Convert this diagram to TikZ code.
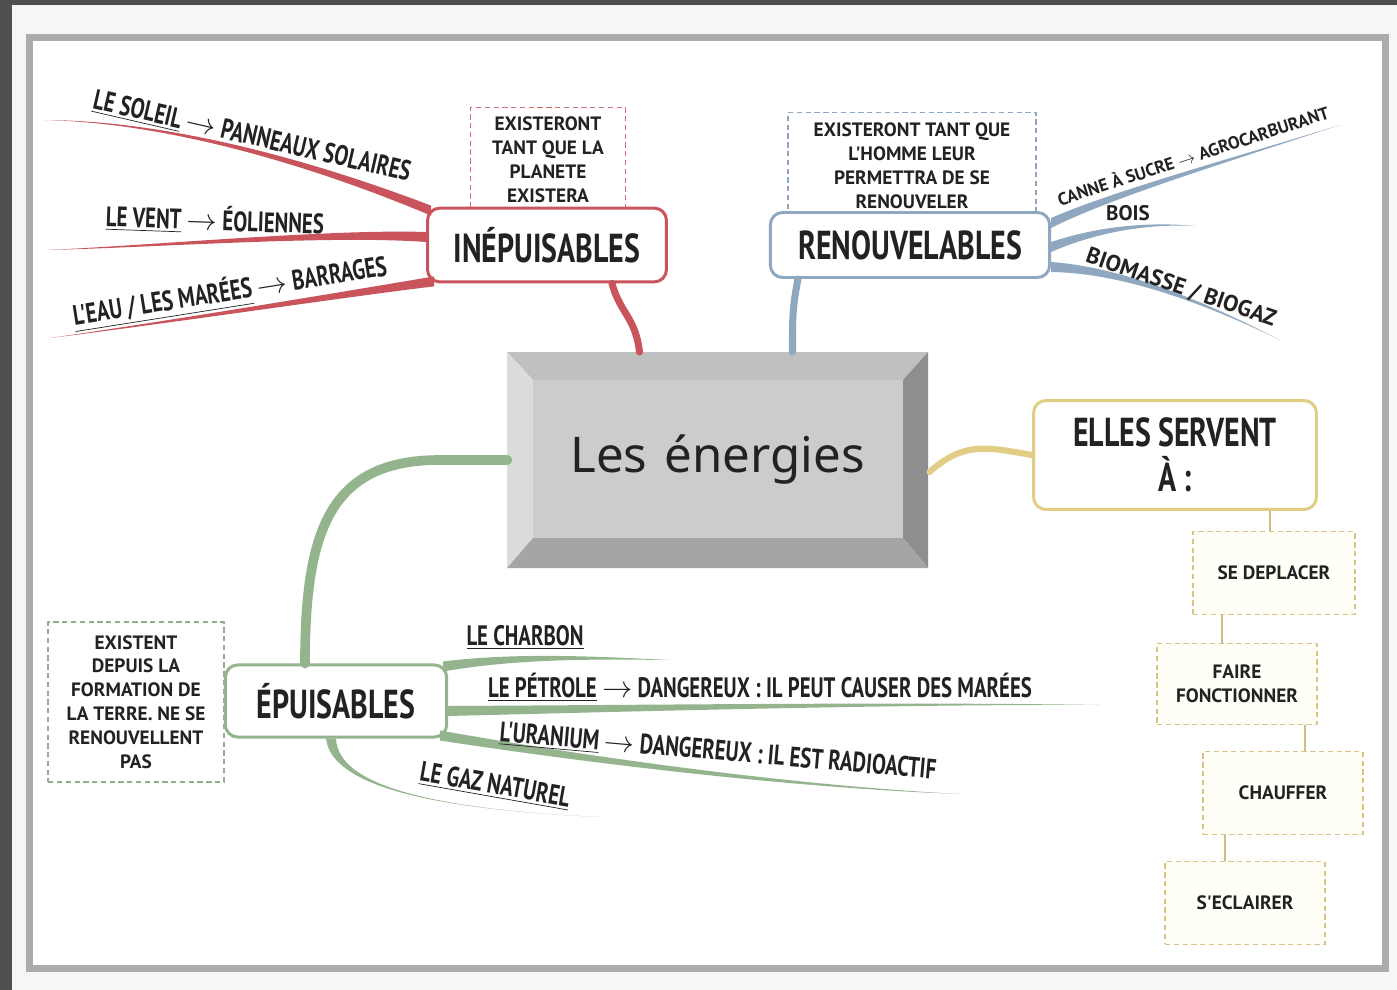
\documentclass[tikz,border=0pt]{standalone}
\usepackage{fontspec}
\setmainfont{PT Sans}
\newfontfamily\hand[FakeStretch=0.74]{PT Sans}
\newfontfamily\handl{PT Sans}
\newfontfamily\rond{Noto Sans}
\usetikzlibrary{calc,positioning}
\definecolor{fond}{HTML}{4F4F4F}
\definecolor{txt}{HTML}{222222}
\definecolor{rouge}{HTML}{C9545C}
\definecolor{bleu}{HTML}{8FA7BF}
\definecolor{vert}{HTML}{93B48C}
\definecolor{jaune}{HTML}{E2CD85}
\definecolor{bhaut}{HTML}{C0C0C0}
\definecolor{bgauche}{HTML}{DCDCDC}
\definecolor{bdroit}{HTML}{8E8E8E}
\definecolor{bbas}{HTML}{A5A5A5}
\definecolor{bcentre}{HTML}{CCCCCC}
\newcommand\branche[6]{%
  \fill[#1] ($#2+#6$) .. controls ($#3+0.6*#6$) and ($#4+0.25*#6$) .. #5
    .. controls ($#4-0.25*#6$) and ($#3-0.6*#6$) .. ($#2-#6$) -- cycle;}

\begin{document}
\begin{tikzpicture}[x=0.02cm,y=-0.02cm,
  titre/.style={draw=#1, line width=1.7pt, rounded corners=7pt, fill=white, text=txt, font=\hand\bfseries\fontsize{23}{25.5}\selectfont, align=center, inner sep=0pt},
  bulle/.style={draw=#1, densely dashed, line width=0.8pt, fill=white, text=txt, font=\handl\bfseries\fontsize{11}{13.6}\selectfont, align=center, inner sep=0pt},
  etiq/.style={text=txt, font=\hand\bfseries\fontsize{16}{18}\selectfont, inner sep=0pt},
  lien/.style={draw=#1, line width=4pt, line cap=round}]
\useasboundingbox (0,0) rectangle (1397,990);
\fill[fond] (0,0) rectangle (1397,990);
\fill[white!93!gray] (12,5) rectangle (1397,990);
\draw[gray!65, line width=4pt] (30,38) rectangle (1385,968);
\fill[white] (33,41) rectangle (1382,965);

\coordinate (o1) at (507,352); \coordinate (o2) at (928,352);
\coordinate (o3) at (928,568); \coordinate (o4) at (507,568);
\coordinate (i1) at (533,380); \coordinate (i2) at (903,380);
\coordinate (i3) at (903,538); \coordinate (i4) at (533,538);
\fill[bhaut] (o1) -- (o2) -- (i2) -- (i1) -- cycle;
\fill[bgauche] (o1) -- (i1) -- (i4) -- (o4) -- cycle;
\fill[bdroit] (o2) -- (o3) -- (i3) -- (i2) -- cycle;
\fill[bbas] (o4) -- (o3) -- (i3) -- (i4) -- cycle;
\fill[bcentre] (i1) rectangle (i3);
\node[minimum width=238.7pt, minimum height=122.5pt, inner sep=0pt, text=txt, font=\rond\fontsize{28}{34}\selectfont] (c) at (717.5,460) {Les\hspace{0.35em}énergies};

\node[bulle=rouge!85] (inebul) at (548,160) [minimum width=88pt, minimum height=60pt] {EXISTERONT\\TANT QUE LA\\PLANETE\\EXISTERA};
\node[titre=rouge] (ine) at (547,245) [minimum width=136pt, minimum height=42pt] {INÉPUISABLES};
\node[bulle=bleu] (renbul) at (912,166) [minimum width=141pt, minimum height=61pt] {EXISTERONT TANT QUE\\L'HOMME LEUR\\PERMETTRA DE SE\\RENOUVELER};
\node[titre=bleu] (ren) at (910,245) [minimum width=159pt, minimum height=37pt] {RENOUVELABLES};
\node[bulle=vert!90!gray] (epubul) at (136,702) [minimum width=100pt, minimum height=91pt] {EXISTENT\\DEPUIS LA\\FORMATION DE\\LA TERRE. NE SE\\RENOUVELLENT\\PAS};
\node[titre=vert] (epu) at (336,701) [minimum width=126pt, minimum height=41pt] {ÉPUISABLES};
\node[titre=jaune] (serv) at (1175,455) [minimum width=161pt, minimum height=62pt] {ELLES SERVENT\\À :};
\node[bulle=jaune!90!gray, fill=yellow!3] (dep) at (1274,573) [minimum width=92pt, minimum height=47pt] {SE DEPLACER};
\node[bulle=jaune!90!gray, fill=yellow!3] (fonc) at (1237,684) [minimum width=91pt, minimum height=46pt] {FAIRE\\FONCTIONNER};
\node[bulle=jaune!90!gray, fill=yellow!3] (chauf) at (1283,793) [minimum width=91pt, minimum height=47pt] {CHAUFFER};
\node[bulle=jaune!90!gray, fill=yellow!3] (ecl) at (1245,903) [minimum width=91pt, minimum height=47pt] {S'ECLAIRER};

\draw[lien=rouge] ($(ine.south)+(65,0)$) .. controls +(8,30) and +(-4,-35) .. ($(c.north)+(-78,0)$);
\draw[lien=bleu] ($(ren.south)+(-112,0)$) .. controls +(-6,30) and +(0,-30) .. ($(c.north)+(75,0)$);
\draw[lien=vert, line width=5.5pt] (c.west) -- (440,460) .. controls (330,460) and (305,530) .. ($(epu.north)+(-31,0)$);
\draw[lien=jaune, line width=3.5pt] ($(c.east)+(2,12)$) .. controls (965,440) and (990,448) .. (serv.west);
\draw[jaune!80!gray, line width=0.8pt] ($(serv.south)+(95,0)$) -- ($(dep.north)+(-4,0)$);
\draw[jaune!80!gray, line width=0.8pt] ($(dep.south)+(-52,0)$) -- ($(fonc.north)+(-15,0)$);
\draw[jaune!80!gray, line width=0.8pt] ($(fonc.south)+(68,0)$) -- ($(chauf.north)+(22,0)$);
\draw[jaune!80!gray, line width=0.8pt] ($(chauf.south)+(-58,0)$) -- ($(ecl.north)+(-20,0)$);

\coordinate (r1) at ($(ine.north west)+(5,4)$);
\coordinate (r2) at ($(ine.west)+(0,-8)$);
\coordinate (r3) at ($(ine.south west)+(8,-2)$);
\coordinate (r1f) at (45,120); \coordinate (r2f) at (48,250); \coordinate (r3f) at (50,338);
\branche{rouge}{(r1)}{(330,170)}{(180,122)}{(r1f)}{(0,5)}
\branche{rouge}{(r2)}{(330,232)}{(160,246)}{(r2f)}{(0,5)}
\branche{rouge}{(r3)}{(360,292)}{(170,322)}{(r3f)}{(0,5)}
\node[etiq, rotate=-13] (soleil) at (252,137) {\underline{LE SOLEIL} $\rightarrow$ PANNEAUX SOLAIRES};
\node[etiq, rotate=-2] (vent) at (215,220) {\underline{LE VENT} $\rightarrow$ ÉOLIENNES};
\node[etiq, rotate=9] (eau) at (230,292) {\underline{L'EAU / LES MARÉES} $\rightarrow$ BARRAGES};

\coordinate (b1) at ($(ren.north east)+(0,12)$);
\coordinate (b2) at ($(ren.east)+(0,2)$);
\coordinate (b3) at ($(ren.south east)+(0,-12)$);
\coordinate (b1f) at (1340,125); \coordinate (b2f) at (1195,226); \coordinate (b3f) at (1280,340);
\branche{bleu}{(b1)}{(1110,195)}{(1230,160)}{(b1f)}{(0,5)}
\branche{bleu}{(b2)}{(1090,232)}{(1140,222)}{(b2f)}{(0,5)}
\branche{bleu}{(b3)}{(1120,270)}{(1200,300)}{(b3f)}{(0,5)}
\node[etiq, rotate=18, font=\handl\bfseries\fontsize{10}{12}\selectfont] (canne) at (1193,155) {CANNE À SUCRE $\rightarrow$ AGROCARBURANT};
\node[etiq, font=\handl\bfseries\fontsize{12}{14}\selectfont] (bois) at (1128,213) {BOIS};
\node[etiq, rotate=-19, font=\handl\bfseries\fontsize{13}{15}\selectfont] (bio) at (1181,288) {BIOMASSE / BIOGAZ};

\coordinate (v1) at ($(epu.north east)+(-5,3)$);
\coordinate (v2) at ($(epu.east)+(0,10)$);
\coordinate (v3) at ($(epu.south east)+(-8,-3)$);
\coordinate (v4) at ($(epu.south)+(-5,0)$);
\coordinate (v1f) at (670,660); \coordinate (v2f) at (1100,705);
\coordinate (v3f) at (960,794); \coordinate (v4f) at (600,817);
\branche{vert}{(v1)}{(520,655)}{(600,658)}{(v1f)}{(0,5)}
\branche{vert}{(v2)}{(650,708)}{(900,703)}{(v2f)}{(0,5)}
\branche{vert}{(v3)}{(600,762)}{(800,787)}{(v3f)}{(0,5)}
\branche{vert}{(v4)}{(335,790)}{(450,810)}{(v4f)}{(5,0)}
\node[etiq] (charbon) at (525,637) {\underline{LE CHARBON}};
\node[etiq] (petrole) at (760,687) {\underline{LE PÉTROLE} $\rightarrow$ DANGEREUX : IL PEUT CAUSER DES MARÉES};
\node[etiq, rotate=-5] (uranium) at (718,752) {\underline{L'URANIUM} $\rightarrow$ DANGEREUX : IL EST RADIOACTIF};
\node[etiq, rotate=-10] (gaz) at (495,786) {\underline{LE GAZ NATUREL}};
\end{tikzpicture}
\end{document}
